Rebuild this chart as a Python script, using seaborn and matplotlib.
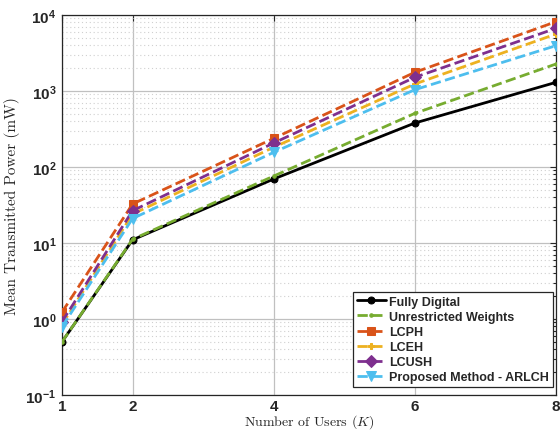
import matplotlib
matplotlib.use("Agg")
import matplotlib.pyplot as plt
import seaborn as sns
import numpy as np
import pandas as pd
from matplotlib.ticker import FixedLocator, FixedFormatter, LogLocator, NullFormatter

users = [1, 2, 4, 6, 8]
fully_digital = [0.50, 11.0, 69.5, 379, 1300]
unrestricted = [0.50, 11.2, 76, 508, 2265]
lcph = [1.23, 32.6, 238, 1762, 8160]
lceh = [0.85, 24.0, 182, 1236, 5620]
lcush = [0.92, 26.6, 207, 1514, 6680]
arlch = [0.79, 21.0, 156, 1040, 3950]

series_names = ["Fully Digital", "Unrestricted Weights", "LCPH", "LCEH", "LCUSH",
                "Proposed Method - ARLCH"]
series_values = [fully_digital, unrestricted, lcph, lceh, lcush, arlch]
colors = ["#000000", "#77AC30", "#D95319", "#EDB120", "#7E2F8E", "#4DBEEE"]
markers = ["o", ".", "s", "P", "D", "v"]
msizes = [5, 5, 6, 5, 6, 7]
styles = ["-", "--", "--", "--", "--", "--"]

xticks = [1, 2, 4, 6, 8]
yticks = [0.1, 1, 10, 100, 1000, 10000]
ytick_labels = [r"$\mathbf{10^{-1}}$", r"$\mathbf{10^{0}}$", r"$\mathbf{10^{1}}$",
                r"$\mathbf{10^{2}}$", r"$\mathbf{10^{3}}$", r"$\mathbf{10^{4}}$"]

sns.set_style("white")
plt.rcParams["mathtext.fontset"] = "custom"
plt.rcParams["mathtext.rm"] = "Liberation Sans"
plt.rcParams["mathtext.bf"] = "Liberation Sans:bold"
plt.rcParams["mathtext.it"] = "cmmi10"
plt.rcParams["font.family"] = ["Liberation Sans", "DejaVu Sans"]

fig = plt.figure(figsize=(5.6, 4.31), dpi=100)
ax = fig.add_axes([62/560, 1 - 396/431, (556-62)/560, (396-16)/431])

for name, vals, c, m, ms, ls in zip(series_names, series_values, colors, markers, msizes, styles):
    df = pd.DataFrame({"K": users, "P": vals})
    sns.lineplot(data=df, x="K", y="P", ax=ax, color=c, marker=m, markersize=ms,
                 linestyle=ls, linewidth=2, markeredgecolor=c, label=name,
                 errorbar=None, sort=False, zorder=3)

ax.set_yscale("log")
ax.set_xlim(1, 8)
ax.set_ylim(0.1, 10000)
ax.xaxis.set_major_locator(FixedLocator(xticks))
ax.set_xticklabels([str(t) for t in xticks], fontweight="bold", fontsize=11)
ax.yaxis.set_major_locator(FixedLocator(yticks))
ax.yaxis.set_major_formatter(FixedFormatter(ytick_labels))
ax.yaxis.set_minor_locator(LogLocator(base=10, subs=np.arange(2, 10), numticks=20))
ax.yaxis.set_minor_formatter(NullFormatter())
for lab in ax.get_yticklabels():
    lab.set_fontsize(11)

ax.grid(True, which="major", color="#c0c0c0", linewidth=0.9, linestyle="-", zorder=0)
ax.grid(True, which="minor", axis="y", color="#d0d0d0", linewidth=0.8, linestyle=(0, (1, 2.5)), zorder=0)
ax.tick_params(which="both", direction="in", top=True, right=True, length=4, width=0.8, colors="#262626")
ax.tick_params(which="minor", length=2.5)
ax.tick_params(axis="y", labelcolor="#262626", pad=4)
ax.tick_params(axis="x", labelcolor="#262626", pad=3)
for s in ax.spines.values():
    s.set_color("#262626")
    s.set_linewidth(0.9)

ax.set_xlabel("Number of Users ($K$)", family="cmr10", fontsize=10, labelpad=-1)
ax.set_ylabel("Mean Transmitted Power (mW)", family="cmr10", fontsize=11, labelpad=4)

leg = ax.legend(loc="lower right", bbox_to_anchor=(0.994, 0.021), borderaxespad=0,
                prop={"weight": "bold", "size": 9}, frameon=True,
                fancybox=False, edgecolor="#262626", framealpha=1,
                handlelength=2.3, labelspacing=0.25, handletextpad=0.3, borderpad=0.3)
leg.get_frame().set_linewidth(0.9)

fig.savefig("out.png", dpi=100)
